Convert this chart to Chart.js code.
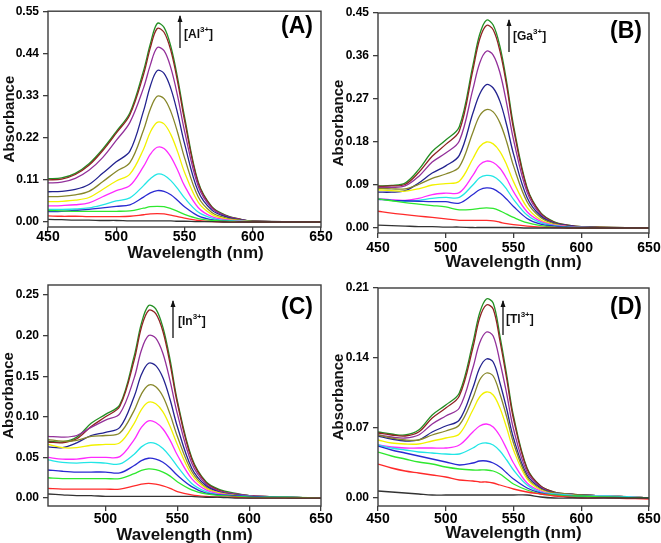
<!DOCTYPE html>
<html lang="en">
<head>
<meta charset="UTF-8">
<title>Absorption titration spectra</title>
<script src="https://cdn.jsdelivr.net/npm/chart.js@4.4.0/dist/chart.umd.min.js"></script>
<style>
  body { margin: 0; background: #fff; }
  #wrap { position: relative; width: 661px; height: 543px; overflow: hidden; }
  canvas { position: absolute; }
</style>
</head>
<body>
<div id="wrap">
  <canvas id="chartA" width="345" height="270" style="left:0;top:0"></canvas>
  <canvas id="chartB" width="345" height="270" style="left:330px;top:0"></canvas>
  <canvas id="chartC" width="345" height="273" style="left:0;top:270px"></canvas>
  <canvas id="chartD" width="345" height="273" style="left:330px;top:270px"></canvas>
</div>
<script>
// curve colours, lowest concentration first
const seriesColors = ['#333333', '#ff2a2a', '#2ee82e', '#2a2ad2', '#22e6e6', '#ff2aff',
                      '#f2f200', '#87872a', '#23238f', '#93309a', '#8f2323', '#238f23'];

// (A) Al3+
const wlA = [450, 460, 470, 480, 490, 500, 510, 520, 525, 530, 535, 540, 545, 550, 560, 570, 580, 590, 600, 650];
const al0 = [.007, .006, .005, .005, .004, .004, .003, .003, .003, .003, .003, .003, .002, .002, .001, .001, 0, 0, 0, 0];
const al1 = [.016, .015, .015, .014, .014, .014, .015, .019, .021, .022, .021, .018, .014, .010, .004, .001, 0, 0, 0, 0];
const al2 = [.030, .029, .028, .028, .028, .028, .029, .036, .040, .041, .040, .035, .028, .020, .009, .004, .002, .001, 0, 0];
const al3 = [.027, .028, .030, .033, .037, .041, .045, .065, .076, .082, .080, .071, .056, .040, .016, .006, .002, .001, 0, 0];
const al4 = [.033, .033, .034, .037, .045, .055, .063, .095, .113, .125, .122, .108, .087, .063, .026, .010, .004, .002, .001, 0];
const al5 = [.042, .043, .045, .050, .066, .082, .095, .145, .177, .195, .192, .170, .135, .095, .038, .014, .006, .003, .001, 0];
const al6 = [.053, .054, .057, .064, .085, .107, .125, .190, .235, .260, .256, .228, .183, .130, .052, .020, .008, .004, .001, 0];
const al7 = [.066, .067, .071, .080, .105, .132, .155, .240, .295, .328, .322, .288, .233, .168, .066, .025, .011, .005, .002, 0];
const al8 = [.079, .080, .085, .098, .127, .157, .185, .290, .355, .395, .388, .348, .283, .205, .080, .031, .014, .006, .002, 0];
const al9 = [.102, .104, .114, .135, .168, .213, .260, .350, .410, .455, .447, .402, .328, .238, .094, .036, .016, .007, .002, 0];
const al10 = [.110, .112, .124, .148, .186, .232, .280, .385, .455, .505, .495, .447, .365, .266, .102, .039, .017, .008, .002, 0];
const al11 = [.113, .115, .127, .152, .190, .236, .285, .395, .465, .518, .508, .458, .375, .275, .105, .040, .018, .008, .002, 0];

// (B) Ga3+
const wlB = [450, 460, 470, 480, 490, 500, 510, 520, 525, 530, 535, 540, 545, 550, 560, 570, 580, 590, 600, 650];
const ga0 = [.006, .005, .004, .003, .003, .002, .002, .001, .001, .001, .001, .001, .001, .001, 0, 0, 0, 0, 0, 0];
const ga1 = [.035, .031, .028, .025, .022, .019, .016, .016, .016, .016, .015, .012, .009, .007, .004, .002, .001, 0, 0, 0];
const ga2 = [.061, .057, .053, .050, .047, .044, .038, .039, .041, .042, .041, .036, .029, .022, .011, .005, .002, .001, 0, 0];
const ga3 = [.060, .058, .057, .056, .055, .055, .052, .070, .080, .084, .082, .073, .060, .045, .020, .008, .004, .002, .001, 0];
const ga4 = [.061, .058, .056, .058, .062, .064, .064, .090, .105, .110, .108, .098, .081, .060, .027, .011, .005, .002, .001, 0];
const ga5 = [.062, .059, .058, .062, .070, .073, .074, .110, .132, .140, .137, .125, .103, .076, .034, .014, .006, .003, .001, 0];
const ga6 = [.080, .078, .077, .082, .090, .093, .098, .145, .170, .180, .176, .160, .132, .097, .043, .017, .007, .003, .001, 0];
const ga7 = [.083, .082, .082, .091, .104, .113, .128, .200, .235, .248, .243, .220, .180, .130, .055, .022, .009, .004, .002, 0];
const ga8 = [.075, .075, .078, .094, .115, .130, .152, .240, .280, .300, .293, .265, .215, .155, .064, .025, .010, .005, .002, 0];
const ga9 = [.085, .085, .088, .108, .138, .157, .182, .290, .345, .370, .362, .325, .260, .185, .075, .028, .011, .005, .002, 0];
const ga10 = [.087, .088, .091, .116, .150, .175, .203, .330, .395, .424, .415, .370, .297, .208, .082, .031, .012, .006, .003, 0];
const ga11 = [.088, .089, .094, .122, .160, .184, .212, .340, .405, .435, .425, .380, .305, .215, .085, .032, .013, .006, .003, 0];

// (C) In3+
const wlC = [460, 470, 480, 490, 500, 510, 520, 525, 530, 535, 540, 545, 550, 560, 570, 580, 590, 600, 625, 650];
const in0 = [.005, .004, .003, .003, .002, .002, .002, .002, .002, .002, .002, .002, .002, .002, .001, .001, 0, 0, 0, 0];
const in1 = [.012, .011, .011, .011, .011, .011, .015, .017, .018, .017, .015, .012, .008, .004, .002, .001, .001, 0, 0, 0];
const in2 = [.025, .024, .024, .024, .024, .024, .030, .034, .036, .035, .032, .027, .020, .010, .005, .003, .002, .001, .001, 0];
const in3 = [.0345, .033, .032, .032, .032, .031, .040, .046, .049, .048, .044, .037, .028, .014, .006, .004, .003, .002, .001, 0];
const in4 = [.047, .044, .043, .044, .043, .042, .054, .063, .068, .067, .061, .051, .039, .018, .008, .004, .003, .002, .001, 0];
const in5 = [.050, .048, .048, .050, .050, .051, .072, .087, .095, .093, .085, .071, .053, .024, .010, .005, .003, .002, .001, 0];
const in6 = [.066, .062, .062, .065, .066, .068, .092, .109, .118, .116, .106, .088, .066, .029, .012, .006, .003, .002, .001, 0];
const in7 = [.072, .070, .071, .076, .077, .080, .108, .128, .139, .137, .125, .103, .076, .033, .013, .006, .004, .002, .001, 0];
const in8 = [.063, .062, .068, .077, .081, .087, .125, .152, .166, .163, .148, .121, .088, .037, .015, .007, .004, .002, .001, 0];
const in9 = [.076, .075, .077, .087, .096, .104, .148, .182, .200, .197, .178, .144, .104, .043, .017, .008, .005, .003, .001, 0];
const in10 = [.069, .068, .073, .088, .100, .113, .170, .210, .231, .227, .205, .165, .117, .048, .019, .009, .005, .003, .001, 0];
const in11 = [.070, .069, .075, .092, .103, .115, .175, .215, .237, .233, .210, .170, .120, .050, .020, .010, .006, .003, .001, 0];

// (D) Tl3+
const wlD = [450, 460, 470, 480, 490, 500, 510, 520, 525, 530, 535, 540, 545, 550, 560, 570, 580, 590, 600, 620, 650];
const tl0 = [.007, .006, .005, .004, .003, .003, .003, .003, .003, .003, .003, .003, .003, .003, .003, .001, 0, 0, 0, 0, 0];
const tl1 = [.034, .030, .027, .025, .023, .021, .018, .017, .016, .016, .015, .013, .011, .009, .006, .004, .002, .001, 0, 0, -.001];
const tl2 = [.046, .042, .039, .036, .034, .031, .029, .028, .028, .028, .027, .024, .019, .014, .008, .004, .003, .002, .002, .001, 0];
const tl3 = [.052, .048, .045, .042, .039, .036, .033, .035, .037, .037, .035, .031, .025, .019, .010, .005, .003, .002, .002, .001, 0];
const tl4 = [.053, .050, .048, .046, .045, .044, .044, .050, .054, .055, .053, .047, .038, .028, .013, .006, .004, .003, .002, .002, 0];
const tl5 = [.053, .051, .050, .050, .050, .050, .053, .066, .072, .074, .071, .062, .049, .035, .015, .007, .004, .003, .002, .002, 0];
const tl6 = [.058, .055, .054, .054, .057, .060, .064, .088, .101, .106, .103, .090, .070, .048, .019, .008, .004, .003, .002, .002, 0];
const tl7 = [.063, .060, .058, .058, .063, .067, .073, .100, .118, .125, .122, .104, .081, .055, .021, .009, .005, .004, .003, .002, 0];
const tl8 = [.062, .059, .057, .058, .066, .072, .078, .110, .130, .139, .136, .115, .089, .060, .023, .010, .005, .004, .003, .002, 0];
const tl9 = [.063, .061, .060, .063, .074, .082, .090, .130, .155, .166, .162, .136, .104, .069, .026, .011, .005, .004, .003, .002, 0];
const tl10 = [.065, .063, .062, .066, .080, .090, .102, .150, .180, .193, .189, .157, .119, .079, .029, .012, .006, .004, .003, .002, 0];
const tl11 = [.066, .064, .063, .068, .083, .093, .105, .155, .185, .199, .195, .162, .123, .082, .030, .012, .006, .004, .003, .002, 0];

const ticksA = [0, 0.11, 0.22, 0.33, 0.44, 0.55];
const ticksB = [0, 0.09, 0.18, 0.27, 0.36, 0.45];
const ticksC = [0, 0.05, 0.10, 0.15, 0.20, 0.25];
const ticksD = [0, 0.07, 0.14, 0.21];
const wlTicks = [450, 500, 550, 600, 650];

const FONT = '"Liberation Sans", Arial, sans-serif';
const AXIS_COLOR = '#3c3c3c';

function makeDatasets(wl, series) {
    return series.map((vals, i) => ({
        data: vals.map((v, j) => ({ x: wl[j], y: v })),
        borderColor: seriesColors[i],
        borderWidth: 1.3,
        pointRadius: 0,
        tension: 0.35,
        fill: false
    }));
}

// frame, panel letter, titration arrow and axis titles
const panelDecor = {
    id: 'panelDecor',
    afterDraw(chart, args, o) {
        const ctx = chart.ctx;
        const a = chart.chartArea;
        ctx.save();
        ctx.strokeStyle = AXIS_COLOR;
        ctx.lineWidth = 1.4;
        ctx.strokeRect(a.left, a.top, a.right - a.left, a.bottom - a.top);

        ctx.fillStyle = '#000';
        ctx.textAlign = 'center';
        ctx.textBaseline = 'middle';
        ctx.font = 'bold 23px ' + FONT;
        ctx.fillText(o.letter, o.letterX, o.letterY);

        // arrow
        ctx.strokeStyle = '#111';
        ctx.lineWidth = 1.3;
        ctx.beginPath();
        ctx.moveTo(o.arrowX, o.arrowBottom);
        ctx.lineTo(o.arrowX, o.arrowTop);
        ctx.stroke();
        ctx.beginPath();
        ctx.moveTo(o.arrowX, o.arrowTop - 1);
        ctx.lineTo(o.arrowX - 2.5, o.arrowTop + 6);
        ctx.lineTo(o.arrowX + 2.5, o.arrowTop + 6);
        ctx.closePath();
        ctx.fillStyle = '#111';
        ctx.fill();

        // ion label with superscript
        ctx.textAlign = 'left';
        ctx.textBaseline = 'alphabetic';
        ctx.font = 'bold 12px ' + FONT;
        let x = o.ionX;
        const base = o.ionY;
        ctx.fillText('[' + o.ion, x, base);
        x += ctx.measureText('[' + o.ion).width;
        ctx.font = 'bold 8px ' + FONT;
        ctx.fillText('3+', x, base - 6);
        x += ctx.measureText('3+').width;
        ctx.font = 'bold 12px ' + FONT;
        ctx.fillText(']', x, base);

        // axis titles
        ctx.textAlign = 'center';
        ctx.textBaseline = 'middle';
        ctx.font = 'bold 17px ' + FONT;
        ctx.fillText('Wavelength (nm)', (a.left + a.right) / 2 + o.xTitleShift, o.xTitleY);
        ctx.save();
        ctx.translate(o.yTitleX, (a.top + a.bottom) / 2);
        ctx.rotate(-Math.PI / 2);
        ctx.font = 'bold 15px ' + FONT;
        ctx.fillText('Absorbance', 0, 0);
        ctx.restore();
        ctx.restore();
    }
};

function makeChart(id, wl, series, p) {
    const ctx = document.getElementById(id).getContext('2d');
    return new Chart(ctx, {
        type: 'line',
        data: { datasets: makeDatasets(wl, series) },
        options: {
            responsive: false,
            animation: false,
            events: [],
            layout: { padding: { top: p.padTop, right: p.padRight, left: 0, bottom: 0 } },
            plugins: {
                legend: { display: false },
                tooltip: { enabled: false },
                panelDecor: p.decor
            },
            scales: {
                x: {
                    type: 'linear',
                    min: p.xMin,
                    max: 650,
                    afterBuildTicks: s => { s.ticks = wlTicks.filter(v => v > p.xMin || (v === p.xMin && v === 450)).map(v => ({ value: v })); },
                    afterFit: s => { s.height = p.xAxisHeight; },
                    grid: { drawOnChartArea: false, tickLength: 5, color: AXIS_COLOR, lineWidth: 1.3 },
                    border: { display: false },
                    ticks: {
                        padding: p.xTickPad,
                        color: '#000',
                        maxRotation: 0,
                        font: { family: FONT, size: 14, weight: 'bold' }
                    }
                },
                y: {
                    min: p.yMin,
                    max: p.yMax,
                    afterBuildTicks: s => { s.ticks = p.yTicks.map(v => ({ value: v })); },
                    afterFit: s => { s.width = 48; },
                    grid: { drawOnChartArea: false, tickLength: 5, color: AXIS_COLOR, lineWidth: 1.3 },
                    border: { display: false },
                    ticks: {
                        padding: 4,
                        color: '#000',
                        callback: v => v.toFixed(2),
                        font: { family: FONT, size: 12, weight: 'bold' }
                    }
                }
            }
        },
        plugins: [panelDecor]
    });
}

makeChart('chartA', wlA, [al0, al1, al2, al3, al4, al5, al6, al7, al8, al9, al10, al11], {
    padTop: 7, padRight: 24, xAxisHeight: 43, xTickPad: -3, xMin: 450,
    yMin: -0.013, yMax: 0.55, yTicks: ticksA,
    decor: { letter: '(A)', letterX: 297, letterY: 27, arrowX: 180, arrowTop: 16, arrowBottom: 48,
             ion: 'Al', ionX: 184, ionY: 38, xTitleY: 253, xTitleShift: 11, yTitleX: 10 }
});
makeChart('chartB', wlB, [ga0, ga1, ga2, ga3, ga4, ga5, ga6, ga7, ga8, ga9, ga10, ga11], {
    padTop: 13, padRight: 26, xAxisHeight: 37, xTickPad: 2, xMin: 450,
    yMin: -0.0105, yMax: 0.45, yTicks: ticksB,
    decor: { letter: '(B)', letterX: 296, letterY: 32, arrowX: 179, arrowTop: 20, arrowBottom: 52,
             ion: 'Ga', ionX: 183, ionY: 40, xTitleY: 262, xTitleShift: 0, yTitleX: 9 }
});
makeChart('chartC', wlC, [in0, in1, in2, in3, in4, in5, in6, in7, in8, in9, in10, in11], {
    padTop: 15, padRight: 24, xAxisHeight: 37, xTickPad: 0, xMin: 460,
    yMin: -0.0098, yMax: 0.2623, yTicks: ticksC,
    decor: { letter: '(C)', letterX: 297, letterY: 38, arrowX: 173, arrowTop: 31, arrowBottom: 68,
             ion: 'In', ionX: 178, ionY: 55, xTitleY: 265, xTitleShift: 0, yTitleX: 9 }
});
makeChart('chartD', wlD, [tl0, tl1, tl2, tl3, tl4, tl5, tl6, tl7, tl8, tl9, tl10, tl11], {
    padTop: 18, padRight: 26, xAxisHeight: 37, xTickPad: 0, xMin: 450,
    yMin: -0.008, yMax: 0.21, yTicks: ticksD,
    decor: { letter: '(D)', letterX: 296, letterY: 38, arrowX: 173, arrowTop: 31, arrowBottom: 65,
             ion: 'Tl', ionX: 176, ionY: 53, xTitleY: 263, xTitleShift: 0, yTitleX: 9 }
});
</script>
</body>
</html>
